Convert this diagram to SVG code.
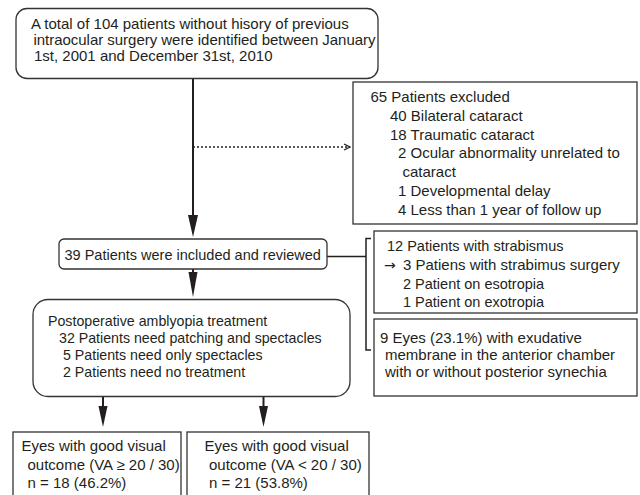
<svg xmlns="http://www.w3.org/2000/svg" width="640" height="495" viewBox="0 0 640 495">
<style>
text{font-family:"Liberation Sans",Arial,sans-serif;font-size:15px;fill:#231f20}
.s145{font-size:14.5px}
.s142{font-size:14.2px}
.box{fill:#fff;stroke:#333;stroke-width:1.3}
.ln{stroke:#231f20;fill:none}
.arr{fill:#231f20;stroke:none}
</style>
<defs>
<marker id="chev" viewBox="0 0 8 8" refX="7" refY="4" markerWidth="8" markerHeight="8" markerUnits="userSpaceOnUse" orient="auto">
<path d="M1,1 L7,4 L1,7" fill="none" stroke="#231f20" stroke-width="1.3"/>
</marker>
</defs>
<rect width="640" height="495" fill="#fff"/>
<g id="connectors">
<line class="ln" x1="193" y1="78" x2="193" y2="217" stroke-width="2"/>
<path class="arr" d="M188,215 L198,215 L193,237 Z"/>
<line class="ln" x1="193" y1="147" x2="350" y2="147" stroke-width="1.5" stroke-dasharray="2,2" marker-end="url(#chev)"/>
<line class="ln" x1="193" y1="269" x2="193" y2="274" stroke-width="2"/>
<path class="arr" d="M188.5,272 L197.5,272 L193,297 Z"/>
<line class="ln" x1="327" y1="256.5" x2="366" y2="256.5" stroke-width="1.5"/>
<path class="ln" d="M371,238.5 L366,238.5 L366,350 L371,350" stroke-width="1.5"/>
<line class="ln" x1="103" y1="397" x2="103" y2="408" stroke-width="2"/>
<path class="arr" d="M98.5,406 L107.5,406 L103,427 Z"/>
<line class="ln" x1="263.5" y1="397" x2="263.5" y2="408" stroke-width="2"/>
<path class="arr" d="M259,406 L268,406 L263.5,427 Z"/>
</g>
<g id="node-total">
<rect class="box" x="16" y="8.5" width="362" height="70" rx="11"/>
<text x="31" y="29">A total of 104 patients without hisory of previous</text>
<text x="33.5" y="45" textLength="342">intraocular surgery were identified between January</text>
<text x="34" y="61">1st, 2001 and December 31st, 2010</text>
</g>
<g id="node-excluded">
<rect class="box" x="353" y="82" width="284" height="142"/>
<text x="370.5" y="102">65 Patients excluded</text>
<text x="390" y="120.8">40 Bilateral cataract</text>
<text x="390" y="139.6">18 Traumatic cataract</text>
<text x="398" y="158.4">2 Ocular abnormality unrelated to</text>
<text x="402.5" y="177.2">cataract</text>
<text x="398" y="196">1 Developmental delay</text>
<text x="398" y="214.8">4 Less than 1 year of follow up</text>
</g>
<g id="node-included">
<rect class="box" x="59" y="239" width="268" height="30" rx="5"/>
<text class="s145" x="64.5" y="259.5">39 Patients were included and reviewed</text>
</g>
<g id="node-strabismus">
<rect class="box" x="374" y="231" width="263" height="82"/>
<text class="s145" x="387" y="251">12 Patients with strabismus</text>
<text x="384" y="269.5" style="font-family:'DejaVu Sans',sans-serif;font-size:14px">→</text>
<text x="403" y="270">3 Patiens with strabimus surgery</text>
<text class="s145" x="403" y="288.5">2 Patient on esotropia</text>
<text class="s145" x="403" y="307">1 Patient on exotropia</text>
</g>
<g id="node-membrane">
<rect class="box" x="374" y="319" width="263" height="77"/>
<text x="380" y="342.5">9 Eyes (23.1%) with exudative</text>
<text x="385" y="359.5">membrane in the anterior chamber</text>
<text x="385" y="376.5">with or without posterior synechia</text>
</g>
<g id="node-treatment">
<rect class="box" x="33" y="299.5" width="317" height="97" rx="15"/>
<text class="s142" x="48" y="326">Postoperative amblyopia treatment</text>
<text class="s142" x="59" y="343">32 Patients need patching and spectacles</text>
<text class="s142" x="63" y="360">5 Patients need only spectacles</text>
<text class="s142" x="63" y="376.7">2 Patients need no treatment</text>
</g>
<g id="node-good">
<rect class="box" x="13" y="432" width="168" height="70"/>
<text x="21.5" y="450.5">Eyes with good visual</text>
<text x="27.5" y="469.5">outcome (VA ≥ 20 / 30)</text>
<text x="27.5" y="488">n = 18 (46.2%)</text>
</g>
<g id="node-poor">
<rect class="box" x="187" y="432" width="182" height="70"/>
<text x="204.5" y="450.5">Eyes with good visual</text>
<text x="209" y="469.5">outcome (VA &lt; 20 / 30)</text>
<text x="209" y="488">n = 21 (53.8%)</text>
</g>
</svg>
